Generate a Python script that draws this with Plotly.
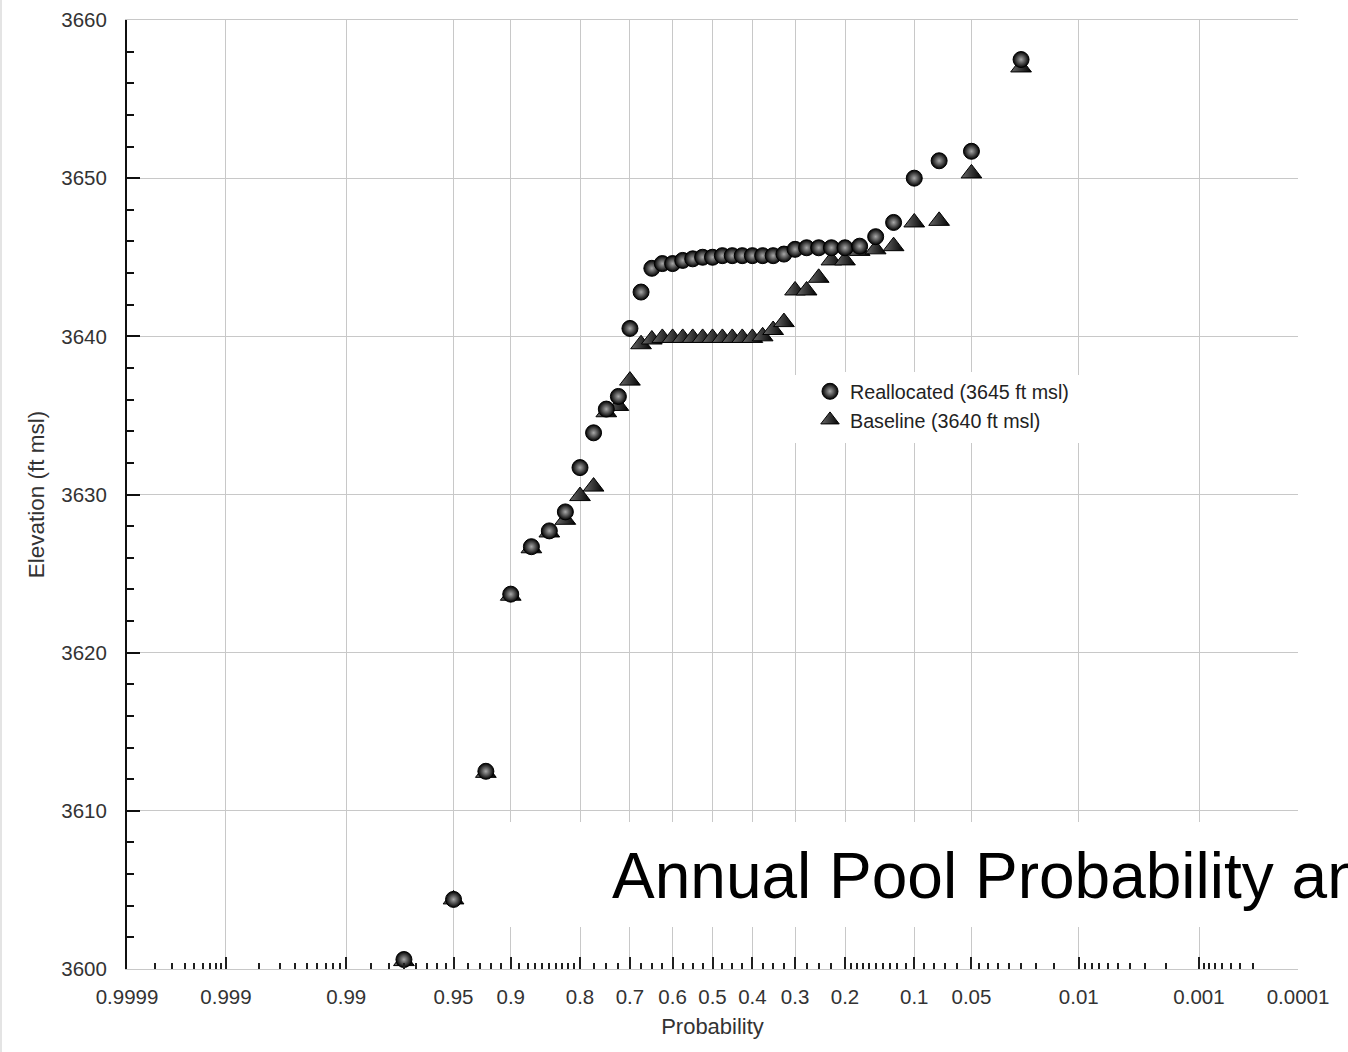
from statistics import NormalDist
import plotly.graph_objects as go

# Annual exceedance probability of each ranked year (Weibull positions m/40)
exceedance = [0.975, 0.95, 0.925, 0.9, 0.875, 0.85, 0.825, 0.8, 0.775, 0.75,
              0.725, 0.7, 0.675, 0.65, 0.625, 0.6, 0.575, 0.55, 0.525, 0.5,
              0.475, 0.45, 0.425, 0.4, 0.375, 0.35, 0.325, 0.3, 0.275, 0.25,
              0.225, 0.2, 0.175, 0.15, 0.125, 0.1, 0.075, 0.05, 0.025]

# Annual maximum pool elevation (ft msl)
reallocated = [3600.6, 3604.4, 3612.5, 3623.7, 3626.7, 3627.7, 3628.9, 3631.7, 3633.9, 3635.4,
               3636.2, 3640.5, 3642.8, 3644.3, 3644.6, 3644.6, 3644.8, 3644.9, 3645.0, 3645.0,
               3645.1, 3645.1, 3645.1, 3645.1, 3645.1, 3645.1, 3645.2, 3645.5, 3645.6, 3645.6,
               3645.6, 3645.6, 3645.7, 3646.3, 3647.2, 3650.0, 3651.1, 3651.7, 3657.5]
baseline = [3600.5, 3604.4, 3612.4, 3623.6, 3626.6, 3627.6, 3628.4, 3629.9, 3630.5, 3635.2,
            3635.6, 3637.2, 3639.5, 3639.8, 3639.9, 3639.9, 3639.9, 3639.9, 3639.9, 3639.9,
            3639.9, 3639.9, 3639.9, 3639.9, 3640.0, 3640.4, 3640.9, 3642.9, 3642.9, 3643.7,
            3644.8, 3644.8, 3645.4, 3645.5, 3645.7, 3647.2, 3647.3, 3650.3, 3657.0]

major_probs = [0.9999, 0.999, 0.99, 0.95, 0.9, 0.8, 0.7, 0.6, 0.5, 0.4, 0.3, 0.2,
               0.1, 0.05, 0.01, 0.001, 0.0001]
major_labels = ["0.9999", "0.999", "0.99", "0.95", "0.9", "0.8", "0.7", "0.6", "0.5",
                "0.4", "0.3", "0.2", "0.1", "0.05", "0.01", "0.001", "0.0001"]
minor_probs = [0.9998, 0.9997, 0.9996, 0.9995, 0.9994, 0.9993, 0.9992, 0.9991,
               0.998, 0.997, 0.996, 0.995, 0.994, 0.993, 0.992, 0.991,
               0.985, 0.98, 0.975, 0.97, 0.965, 0.96, 0.955,
               0.94, 0.93, 0.92, 0.91,
               0.89, 0.88, 0.87, 0.86, 0.85, 0.84, 0.83, 0.82, 0.81,
               0.775, 0.75, 0.725, 0.675, 0.65, 0.625, 0.575, 0.55, 0.525,
               0.475, 0.45, 0.425, 0.375, 0.35, 0.325, 0.275, 0.25, 0.225,
               0.19, 0.18, 0.17, 0.16, 0.15, 0.14, 0.13, 0.12, 0.11,
               0.09, 0.08, 0.07, 0.06,
               0.045, 0.04, 0.035, 0.03, 0.025, 0.02, 0.015,
               0.009, 0.008, 0.007, 0.006, 0.005, 0.004, 0.003, 0.002,
               0.0009, 0.0008, 0.0007, 0.0006, 0.0005, 0.0004, 0.0003]

y_ticks = [3600, 3610, 3620, 3630, 3640, 3650, 3660]

_nd = NormalDist()


def prob_axis(p):
    """Normal-probability scale: high exceedance on the left."""
    return -_nd.inv_cdf(p)


x_pts = [prob_axis(p) for p in exceedance]

FONT = "Liberation Sans, Arial, sans-serif"
GRID = "#c8c8c8"
W, H = 1348, 1052
ML, MR, MT, MB = 127, 50, 20, 83
PW, PH = W - ML - MR, H - MT - MB


def px_x(px):
    return (px - ML) / PW


def px_y(py):
    return (H - MB - py) / PH


fig = go.Figure()

fig.add_trace(go.Scatter(
    x=x_pts, y=baseline, mode="markers", name="Baseline (3640 ft msl)",
    legendrank=2,
    marker=dict(symbol="triangle-up", size=18, color="#6a6a6a",
                gradient=dict(type="horizontal", color="#000000"),
                line=dict(color="black", width=1)),
))
fig.add_trace(go.Scatter(
    x=x_pts, y=reallocated, mode="markers", name="Reallocated (3645 ft msl)",
    legendrank=1,
    marker=dict(symbol="circle", size=16, color="#000000",
                gradient=dict(type="radial", color="#a8a8a8"),
                line=dict(color="black", width=1)),
))

fig.update_xaxes(
    range=[prob_axis(0.9999), prob_axis(0.0001)],
    tickmode="array",
    tickvals=[prob_axis(p) for p in major_probs],
    ticktext=major_labels,
    ticks="inside", ticklen=12, tickwidth=2, tickcolor="#202020",
    ticklabelstandoff=9,
    showgrid=True, gridcolor=GRID, gridwidth=1,
    showline=True, linecolor=GRID, linewidth=1, mirror=True,
    zeroline=False,
    minor=dict(tickmode="array", tickvals=[prob_axis(p) for p in minor_probs],
               ticks="inside", ticklen=6, tickwidth=2, tickcolor="#202020",
               showgrid=False),
    tickfont=dict(family=FONT, size=20.5, color="#333333"),
    title=dict(text="Probability", standoff=12,
               font=dict(family=FONT, size=22, color="#333333")),
)
fig.update_yaxes(
    range=[3600, 3660],
    tickmode="array", tickvals=y_ticks,
    ticks="inside", ticklen=13, tickwidth=2, tickcolor="#101010",
    ticklabelstandoff=14,
    showgrid=True, gridcolor=GRID, gridwidth=1,
    showline=True, linecolor="#101010", linewidth=2,
    zeroline=False,
    minor=dict(dtick=2, ticks="inside", ticklen=7, tickwidth=2,
               tickcolor="#101010", showgrid=False),
    tickfont=dict(family=FONT, size=20.5, color="#333333"),
    title=dict(text="Elevation (ft msl)", standoff=10,
               font=dict(family=FONT, size=22.5, color="#333333")),
)

fig.update_layout(
    width=W, height=H,
    margin=dict(l=ML, r=MR, t=MT, b=MB, autoexpand=False),
    paper_bgcolor="white", plot_bgcolor="white",
    showlegend=True,
    legend=dict(x=px_x(810), y=px_y(372), xanchor="left", yanchor="top",
                bgcolor="white", borderwidth=0, tracegroupgap=0,
                font=dict(family=FONT, size=19.7, color="#222222"),
                itemsizing="trace"),
    shapes=[
        # panel behind the legend
        dict(type="rect", xref="paper", yref="paper",
             x0=px_x(782), x1=px_x(1090), y0=px_y(443), y1=px_y(375),
             fillcolor="white", line=dict(width=0), layer="above"),
        # panel behind the caption
        dict(type="rect", xref="paper", yref="paper",
             x0=px_x(470), x1=px_x(1360), y0=px_y(927), y1=px_y(822),
             fillcolor="white", line=dict(width=0), layer="above"),
        # page edge
        dict(type="line", xref="paper", yref="paper",
             x0=px_x(1), x1=px_x(1), y0=px_y(0), y1=px_y(H),
             line=dict(color="#e4e4e4", width=2)),
    ],
    annotations=[
        dict(text="Annual Pool Probability and", xref="paper", yref="paper",
             x=px_x(610), y=px_y(876), xanchor="left", yanchor="middle",
             showarrow=False, font=dict(family=FONT, size=64, color="black")),
    ],
)

fig.write_html("out.html")
